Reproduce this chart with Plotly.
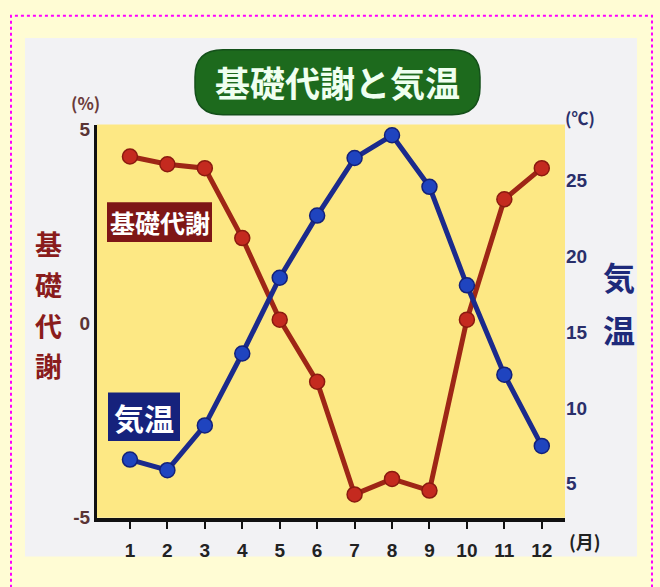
import plotly.graph_objects as go

W, H = 660, 587

months = list(range(1, 13))
month_labels = [str(m) for m in months]
metabolism = [4.3, 4.1, 4.0, 2.2, 0.1, -1.5, -4.4, -4.0, -4.3, 0.1, 3.2, 4.0]
temperature = [6.6, 5.9, 8.85, 13.6, 18.6, 22.7, 26.5, 28.0, 24.6, 18.1, 12.2, 7.5]
left_ticks = [-5, 0, 5]
left_tick_labels = ["-5", "0", "5"]
right_ticks = [5, 10, 15, 20, 25]

FONT = "Noto Sans CJK JP"
NUMFONT = "Liberation Sans"


def px(x):
    return x / W


def py(y):
    return 1 - y / H


fig = go.Figure()

fig.add_trace(go.Scatter(
    x=months, y=temperature, yaxis="y2", mode="lines+markers",
    line=dict(color="#1b2a8c", width=5),
    marker=dict(size=15, color="#1f44bf", line=dict(color="#13217a", width=1.5)),
    showlegend=False, cliponaxis=False))
fig.add_trace(go.Scatter(
    x=months, y=metabolism, mode="lines+markers",
    line=dict(color="#9e2616", width=5),
    marker=dict(size=15, color="#c42a1f", line=dict(color="#8b1a10", width=1.5)),
    showlegend=False, cliponaxis=False))

# rounded title box path
x0, x1, y0, y1, r = 195, 480, 45, 112, 28
def P(x, y):
    return f"{px(x):.5f},{py(y):.5f}"
title_path = (f"M {P(x0 + r, y0)} L {P(x1 - r, y0)} Q {P(x1, y0)} {P(x1, y0 + r)} "
              f"L {P(x1, y1 - r)} Q {P(x1, y1)} {P(x1 - r, y1)} "
              f"L {P(x0 + r, y1)} Q {P(x0, y1)} {P(x0, y1 - r)} "
              f"L {P(x0, y0 + r)} Q {P(x0, y0)} {P(x0 + r, y0)} Z")

shapes = [
    dict(type="rect", xref="paper", yref="paper", x0=px(25), x1=px(637), y0=py(567), y1=py(33),
         fillcolor="#f2f2f4", line=dict(width=0), layer="below"),
    dict(type="rect", xref="paper", yref="paper", x0=px(97), x1=px(565), y0=py(527), y1=py(122),
         fillcolor="#fde884", line=dict(width=0), layer="below"),
    dict(type="path", xref="paper", yref="paper", path=title_path,
         fillcolor="#1d6a1d", line=dict(color="#14501a", width=1.5), layer="above"),
    dict(type="rect", xref="paper", yref="paper", x0=px(107), x1=px(212), y0=py(243), y1=py(202),
         fillcolor="#7e1616", line=dict(width=0), layer="above"),
    dict(type="rect", xref="paper", yref="paper", x0=px(108), x1=px(180), y0=py(448), y1=py(398),
         fillcolor="#16227c", line=dict(width=0), layer="above"),
    dict(type="rect", xref="paper", yref="paper", x0=px(11), x1=px(652), y0=py(600), y1=py(10),
         fillcolor="rgba(0,0,0,0)", line=dict(color="#ff00ff", width=2, dash="dot"), layer="above"),
]


def ann(text, x, y, size, color, family=FONT):
    return dict(text=text, x=px(x), y=py(y), showarrow=False, xref="paper", yref="paper",
                xanchor="center", yanchor="middle",
                font=dict(family=family, size=size, color=color, weight="bold"))


annotations = [
    ann("基礎代謝と気温", 337, 78, 35, "#effff0"),
    ann("基礎代謝", 160, 222, 25, "#ffffff"),
    ann("気温", 144, 423, 30, "#ffffff"),
    ann("(%)", 85, 99, 17, "#6a3a3a"),
    ann("(℃)", 580, 115, 17, "#2a2f6a"),
    ann("(月)", 585, 551, 18, "#222222"),
]
for ch, yy in zip("基礎代謝", [245, 287, 329, 370]):
    annotations.append(ann(ch, 48, yy, 27, "#8a1c1c"))
for ch, yy in zip("気温", [278, 333]):
    annotations.append(ann(ch, 619, yy, 32, "#1e2a7a"))

fig.update_layout(
    width=W, height=H,
    margin=dict(l=0, r=0, t=0, b=0),
    paper_bgcolor="#fffcd4",
    plot_bgcolor="rgba(0,0,0,0)",
    shapes=shapes,
    annotations=annotations,
    xaxis=dict(domain=[px(97), px(565)], range=[0.12, 12.62], tickvals=months, ticktext=month_labels,
               showline=True, linecolor="#111111", linewidth=4, ticks="outside", ticklen=7,
               tickwidth=2, tickcolor="#111111", showgrid=False, zeroline=False,
               ticklabelstandoff=5,
               tickfont=dict(family=NUMFONT, size=19, color="#222222", weight="bold")),
    yaxis=dict(domain=[py(527), py(123)], range=[-5.0, 5.1], tickvals=left_ticks,
               ticktext=left_tick_labels,
               showline=True, linecolor="#111111", linewidth=3, ticks="", showgrid=False,
               zeroline=False, tickfont=dict(family=NUMFONT, size=19, color="#5a3434", weight="bold")),
    yaxis2=dict(overlaying="y", side="right", range=[2.76, 28.65], tickvals=right_ticks,
                showline=False, ticks="", showgrid=False, zeroline=False,
                tickfont=dict(family=NUMFONT, size=19, color="#2a2f6a", weight="bold")),
)

fig.write_html("out.html")
